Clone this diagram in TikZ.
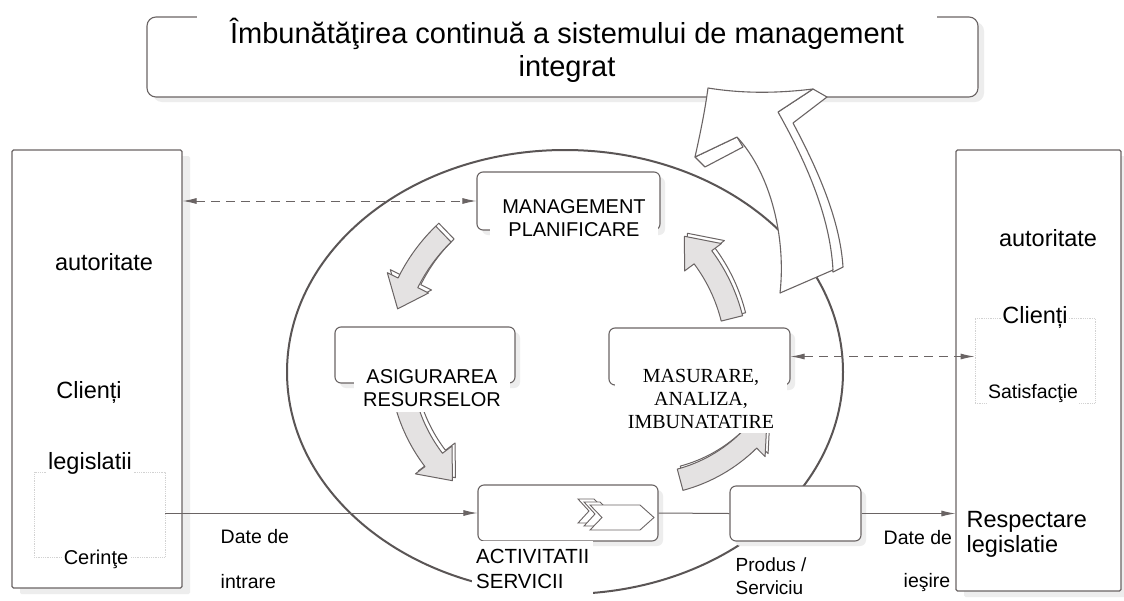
\documentclass[tikz,border=0pt]{standalone}
\usepackage{fontspec}
\setmainfont{Liberation Sans}
\newfontfamily\timesfam{Liberation Serif}
\usetikzlibrary{arrows.meta,shadows}

\definecolor{ink}{HTML}{6A6464}
\definecolor{softfill}{HTML}{E4E2E2}
\definecolor{shade}{HTML}{EDEDED}

% curved block arrow of the improvement cycle:
% centre x, centre y, radius, start angle, end angle
\newcommand\cyclearrow[5]{%
  \pgfmathsetmacro\cyR{#3}%
  \pgfmathsetmacro\cyOut{#3+11}%
  \pgfmathsetmacro\cyIn{#3-11}%
  \pgfmathsetmacro\cyHo{#3+23}%
  \pgfmathsetmacro\cyHi{#3-23}%
  \pgfmathsetmacro\cyB{#5+sign(#4-#5)*28/#3*57.2958}%
  \begin{scope}[shift={(#1,#2)}]
    \foreach \dx/\dy/\col in {3/-3/white,0/0/softfill}{
      \filldraw[shift={(\dx,\dy)},fill=\col,draw=ink,line width=1pt,line join=round]
        (#4:\cyOut) arc[start angle=#4, end angle=\cyB, radius=\cyOut]
        -- (\cyB:\cyHo) -- (#5:\cyR) -- (\cyB:\cyHi) -- (\cyB:\cyIn)
        arc[start angle=\cyB, end angle=#4, radius=\cyIn] -- cycle;
    }
  \end{scope}}

\tikzset{
  frame/.style={draw=ink,line width=1.1pt,fill=white,inner sep=0pt},
  roundbox/.style={frame,rounded corners=6pt,
    drop shadow={shadow xshift=5pt,shadow yshift=-5pt,fill=shade,opacity=1}},
  sidebox/.style={frame,rounded corners=1.5pt,
    drop shadow={shadow xshift=8pt,shadow yshift=-6pt,fill=shade,opacity=1}},
  innerbox/.style={draw=gray!35,densely dotted,line width=0.8pt,inner sep=0pt},
  lbl/.style={fill=white,inner sep=1.5pt,text=black},
  bigtxt/.style={lbl,font=\fontsize{23.5}{27}\selectfont},
  midtxt/.style={lbl,font=\fontsize{19.5}{23}\selectfont},
  capstxt/.style={lbl,font=\fontsize{20}{23}\selectfont,align=center},
  flow/.style={draw=ink,line width=1pt,-{Latex[length=14pt,width=6pt]}},
  both/.style={draw=ink,line width=1pt,dashed,dash pattern=on 9pt off 6pt,
    {Latex[length=14pt,width=6pt]}-{Latex[length=14pt,width=6pt]}},
}

\begin{document}
\begin{tikzpicture}[x=1pt,y=-1pt]
\fill[white] (0,0) rectangle (1124,600);
\useasboundingbox (0,0) rectangle (1124,600);

% frame of the title
\node[frame,rounded corners=9pt,minimum width=831,minimum height=80,
  drop shadow={shadow xshift=6pt,shadow yshift=-5pt,fill=shade,opacity=1}]
  (topbox) at (562.5,57) {};

% outer blocks: stakeholders on the left and on the right
\node[sidebox,minimum width=170,minimum height=438] (leftbox) at (97,369) {};
\node[sidebox,minimum width=165,minimum height=441] (rightbox) at (1038.5,370.5) {};
\node[innerbox,minimum width=131,minimum height=85] (leftinner) at (99.5,514.5) {};
\node[innerbox,minimum width=120,minimum height=85] (rightinner) at (1035,360.5) {};

% the process loop
\draw[draw=ink!85!black,line width=2pt] (565,372) ellipse[x radius=278,y radius=222];

% process blocks
\node[roundbox,minimum width=183,minimum height=58] (mgmt) at (568.5,201) {};
\node[roundbox,minimum width=180,minimum height=56] (resurse) at (425,355) {};
\node[roundbox,minimum width=181,minimum height=57] (masur) at (699.5,356.5) {};
\node[roundbox,minimum width=180,minimum height=56] (activ) at (568,513) {};
\node[roundbox,minimum width=131,minimum height=55] (produs) at (795.5,513.5) {};

% chevrons inside the activity block
\foreach \ox/\oy in {578/499,584/502}{
  \filldraw[fill=white,draw=ink,line width=0.9pt,shift={(\ox,\oy)}]
    (0,0) -- (16,0) -- (28,12) -- (16,24) -- (0,24) -- (11,12) -- cycle;
}
\filldraw[fill=white,draw=ink,line width=0.9pt,shift={(590,505)}]
  (0,0) -- (50,0) -- (64,12.5) -- (50,25) -- (0,25) -- (12,12.5) -- cycle;

% cycle arrows
\cyclearrow{565}{360}{175}{-134}{-163}
\cyclearrow{565}{360}{165}{163}{133}
\cyclearrow{640}{330}{155}{75}{35}
\cyclearrow{565}{360}{172}{-14}{-46}

% connectors
\draw[both] (leftbox.east |- mgmt.west) -- (mgmt.west);
\draw[both] (masur.east) -- (masur.east -| rightinner.west);
\draw[flow] (activ.west -| leftinner.east) -- (activ.west);
\draw[draw=ink,line width=1pt] (activ.east) -- (produs.west);
\draw[flow] (produs.east) -- (produs.east -| rightbox.west);

% block texts
\node[lbl,inner xsep=10pt,minimum width=740,minimum height=72,align=center,
  font=\fontsize{29}{33}\selectfont] (title) at (567,50)
  {Îmbunătăţirea continuă a sistemului de management\\integrat};
\node[capstxt,minimum width=168,minimum height=54] (mgmttxt) at (574,218)
  {MANAGEMENT\\PLANIFICARE};
\node[capstxt,minimum width=156,minimum height=47] (resursetxt) at (432,388)
  {ASIGURAREA\\RESURSELOR};
\node[capstxt,font=\timesfam\fontsize{20}{23}\selectfont,minimum width=172,
  minimum height=68] (masurtxt) at (701,399) {MASURARE,\\ANALIZA,\\IMBUNATATIRE};
\node[lbl,anchor=west,align=left,font=\fontsize{20.5}{24.5}\selectfont,
  minimum height=56,inner xsep=4pt] (activtxt) at (472,569) {ACTIVITATII\\SERVICII};

% labels of the left block
\node[bigtxt] (lauth) at (104,262) {autoritate};
\node[bigtxt] (lcli) at (89,392) {Clienți};
\node[bigtxt] (lleg) at (90,463) {legislatii};
\node[midtxt,font=\fontsize{20}{23}\selectfont] (lreq) at (96,559) {Cerinţe};

% labels of the right block
\node[bigtxt] (rauth) at (1048,238) {autoritate};
\node[bigtxt] (rcli) at (1035,317) {Clienți};
\node[midtxt] (rsat) at (1033,393) {Satisfacţie};
\node[bigtxt,anchor=west,align=left,font=\fontsize{23.5}{25}\selectfont]
  (rleg) at (965,534) {Respectare\\legislatie};

% labels along the flow line
\node[midtxt,anchor=west] (in1) at (219,537) {Date de};
\node[midtxt,anchor=west] (in2) at (219,582) {intrare};
\node[midtxt,anchor=west,align=left,font=\fontsize{19}{23}\selectfont]
  (prod) at (734,576) {Produs /\\Serviciu};
\node[midtxt,anchor=west] (out1) at (882,538) {Date de};
\node[midtxt,anchor=west] (out2) at (902,582) {ieşire};

% improvement arrow rising into the title frame
\filldraw[fill=white,draw=ink,line width=1.1pt,line join=round]
  (813,89) -- (827,97) -- (793,123) .. controls (818,170) and (840,220) .. (843,267)
  -- (833,272) -- (778,112) -- cycle;
\filldraw[fill=white,draw=ink,line width=1.1pt,line join=round]
  (695,157) -- (705,167) -- (743,147) -- (737,137) -- cycle;
\filldraw[fill=white,draw=ink,line width=1.1pt,line join=round]
  (708,88) .. controls (745,94) and (780,93) .. (813,89)
  -- (778,112) .. controls (805,160) and (830,215) .. (833,270)
  -- (780,293) .. controls (786,240) and (772,175) .. (737,137)
  -- (695,157) .. controls (701,130) and (705,110) .. (708,88) -- cycle;
\end{tikzpicture}
\end{document}
